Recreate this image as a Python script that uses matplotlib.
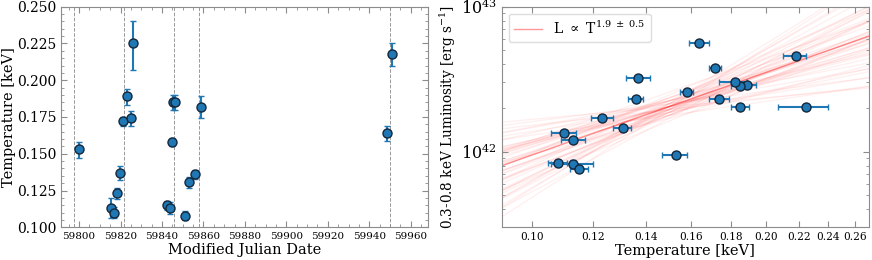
import matplotlib
matplotlib.use('Agg')
import matplotlib.pyplot as plt
import numpy as np
from matplotlib.ticker import AutoMinorLocator, FixedLocator, FormatStrFormatter, NullFormatter, MultipleLocator

plt.rcParams['font.family'] = 'DejaVu Serif'
plt.rcParams['mathtext.fontset'] = 'dejavuserif'

# observation dates and fitted temperatures
mjd = [59799.9, 59815.6, 59817.0, 59818.2, 59819.6, 59821.4, 59823.3, 59824.9, 59826.2, 59842.6,
       59843.8, 59844.6, 59845.4, 59846.5, 59851.0, 59853.1, 59856.0, 59858.9, 59948.8, 59951.2]
temp = [0.153, 0.113, 0.110, 0.123, 0.137, 0.172, 0.189, 0.174, 0.225, 0.115,
        0.113, 0.158, 0.185, 0.185, 0.108, 0.131, 0.136, 0.182, 0.164, 0.218]
temp_lo = [0.006, 0.007, 0.004, 0.004, 0.005, 0.003, 0.006, 0.005, 0.018, 0.003,
           0.004, 0.003, 0.005, 0.005, 0.003, 0.004, 0.003, 0.008, 0.005, 0.008]
temp_hi = [0.005, 0.007, 0.004, 0.004, 0.005, 0.003, 0.005, 0.005, 0.015, 0.003,
           0.004, 0.003, 0.005, 0.005, 0.003, 0.003, 0.003, 0.007, 0.005, 0.007]

# 0.3-0.8 keV luminosity in units of 1e42 erg/s
lum = [0.94, 0.82, 1.35, 1.70, 3.21, 3.78, 2.88, 2.31, 2.03, 0.76,
       1.21, 2.58, 2.85, 2.02, 0.83, 1.46, 2.32, 3.01, 5.63, 4.55]
lum_err = [0.04, 0.05, 0.05, 0.05, 0.08, 0.08, 0.07, 0.06, 0.10, 0.04,
           0.05, 0.06, 0.07, 0.06, 0.04, 0.05, 0.06, 0.07, 0.10, 0.09]

# epochs marked by dashed lines
epochs = [59797.6, 59821.6, 59845.7, 59857.9, 59950.1]

# power-law fit: best fit and posterior draws (log L at T = 0.15 keV)
t_pivot = 0.15
best_slope, best_norm = 1.9, 42.31
draw_slopes = [1.90, 1.18, 2.54, 1.66, 2.14, 0.78, 3.02, 1.82, 1.42, 2.30,
               1.98, 2.78, 1.02, 1.58, 2.06, 3.34, 0.62, 1.74, 2.46, 1.30,
               1.90, 2.22, 1.50, 2.62, 1.26, 2.03, 3.18, 0.94, 1.87, 2.38,
               1.71, 1.45, 2.89, 0.70, 2.09, 1.93, 1.10, 2.70, 1.78, 2.25,
               0.50, 3.45, 1.62, 2.18, 1.39, 2.51, 1.86, 0.86, 2.94, 1.54]
draw_norms = [42.31, 42.27, 42.35, 42.29, 42.37, 42.25, 42.33, 42.31, 42.23, 42.39,
              42.29, 42.27, 42.35, 42.31, 42.25, 42.33, 42.29, 42.37, 42.27, 42.31,
              42.41, 42.21, 42.31, 42.29, 42.35, 42.25, 42.31, 42.33, 42.27, 42.29,
              42.35, 42.31, 42.23, 42.33, 42.29, 42.37, 42.27, 42.31, 42.25, 42.33,
              42.31, 42.29, 42.35, 42.27, 42.31, 42.25, 42.33, 42.29, 42.31, 42.35]

blue = '#1f77b4'
gray = '#8c8c8c'

fig = plt.figure(figsize=(8.72, 2.6), dpi=100)
ax1 = fig.add_axes([0.0705, 0.1258, 0.4207, 0.8484])
ax2 = fig.add_axes([0.5753, 0.1258, 0.4209, 0.8484])


def style(ax):
    for s in ax.spines.values():
        s.set_color(gray)
    ax.tick_params(which='both', direction='in', top=True, right=True, color=gray)
    ax.tick_params(which='major', length=4)
    ax.tick_params(which='minor', length=2)


# left: temperature vs time
for e in epochs:
    ax1.axvline(e, color='gray', ls='--', lw=0.7, alpha=0.8, zorder=1)
ax1.errorbar(mjd, temp, yerr=[temp_lo, temp_hi], fmt='o', color=blue, ecolor=blue,
             mec='#14283c', mew=1.0, ms=6.5, capsize=2.5, elinewidth=1.5, capthick=1.2, zorder=3)
ax1.set_xlim(59791.5, 59968.5)
ax1.set_ylim(0.100, 0.250)
ax1.xaxis.set_major_locator(MultipleLocator(20))
ax1.xaxis.set_minor_locator(AutoMinorLocator(4))
ax1.yaxis.set_major_locator(MultipleLocator(0.025))
ax1.yaxis.set_minor_locator(AutoMinorLocator(5))
ax1.yaxis.set_major_formatter(FormatStrFormatter('%.3f'))
style(ax1)
ax1.tick_params(axis='x', labelsize=7.5)
ax1.tick_params(axis='y', labelsize=10)
ax1.set_xlabel('Modified Julian Date', fontsize=10.5, labelpad=1)
ax1.set_ylabel('Temperature [keV]', fontsize=10.5, labelpad=1)

# right: luminosity vs temperature
tgrid = np.array([0.085, 0.28])
for s, n in zip(draw_slopes, draw_norms):
    ax2.plot(tgrid, 10**(n + s*np.log10(tgrid/t_pivot)), color='red',
             alpha=0.06, lw=1, zorder=1)
ax2.plot(tgrid, 10**(best_norm + best_slope*np.log10(tgrid/t_pivot)), color='red',
         alpha=0.4, lw=1, zorder=2,
         label=r'$\mathrm{L\ \propto\ T^{1.9\ \pm\ 0.5}}$')
ax2.errorbar(temp, np.array(lum)*1e42, xerr=[temp_lo, temp_hi], yerr=np.array(lum_err)*1e42,
             fmt='o', color=blue, ecolor=blue, mec='#14283c', mew=1.0, ms=6.5,
             capsize=2.5, elinewidth=1.5, capthick=1.2, zorder=3)
ax2.set_xscale('log')
ax2.set_yscale('log')
ax2.set_xlim(0.0915, 0.2705)
ax2.set_ylim(3e41, 1e43)
ax2.xaxis.set_major_locator(FixedLocator([0.10, 0.12, 0.14, 0.16, 0.18, 0.20, 0.22, 0.24, 0.26]))
ax2.xaxis.set_major_formatter(FormatStrFormatter('%.2f'))
ax2.xaxis.set_minor_formatter(NullFormatter())
style(ax2)
ax2.tick_params(axis='x', labelsize=7.6)
ax2.tick_params(axis='y', labelsize=11.5)
ax2.set_xlabel('Temperature [keV]', fontsize=10.5, labelpad=1)
ax2.set_ylabel(r'0.3-0.8 keV Luminosity [erg $\mathrm{s^{-1}}$]', fontsize=9.8, labelpad=2)
leg = ax2.legend(loc='upper left', fontsize=10, fancybox=True, framealpha=1,
                 edgecolor='#dddddd', borderaxespad=0.5)

fig.savefig('out.png', dpi=100)
